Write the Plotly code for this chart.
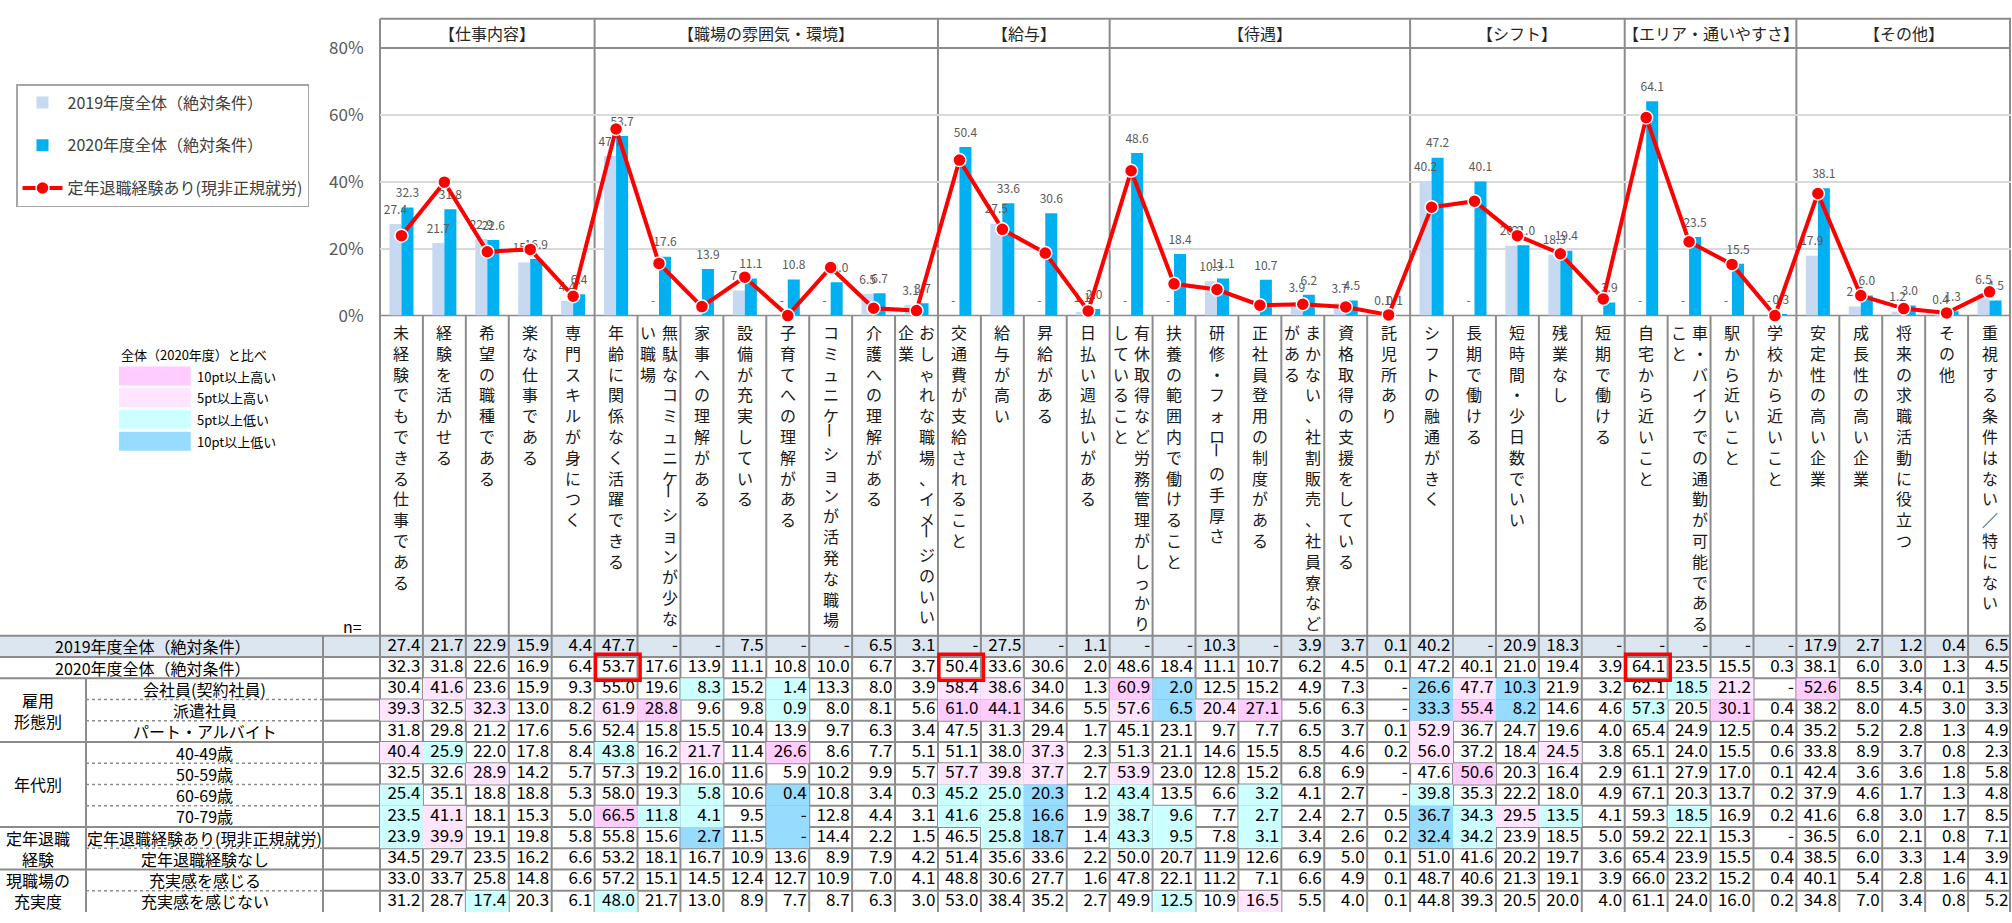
import plotly.graph_objects as go

# ---------------- data ----------------
categories = [
    "未経験でもできる仕事である", "経験を活かせる", "希望の職種である", "楽な仕事である", "専門スキルが身につく",
    "年齢に関係なく活躍できる", "無駄なコミュニケーションが少ない職場", "家事への理解がある", "設備が充実している",
    "子育てへの理解がある", "コミュニケーションが活発な職場", "介護への理解がある", "おしゃれな職場、イメージのいい企業",
    "交通費が支給されること", "給与が高い", "昇給がある", "日払い週払いがある",
    "有休取得など労務管理がしっかりしていること", "扶養の範囲内で働けること", "研修・フォローの手厚さ",
    "正社員登用の制度がある", "まかない、社割販売、社員寮などがある", "資格取得の支援をしている", "託児所あり",
    "シフトの融通がきく", "長期で働ける", "短時間・少日数でいい", "残業なし", "短期で働ける",
    "自宅から近いこと", "車・バイクでの通勤が可能であること", "駅から近いこと", "学校から近いこと",
    "安定性の高い企業", "成長性の高い企業", "将来の求職活動に役立つ", "その他", "重視する条件はない／特にない",
]
group_names = ["【仕事内容】", "【職場の雰囲気・環境】", "【給与】", "【待遇】", "【シフト】", "【エリア・通いやすさ】", "【その他】"]
group_sizes = [5, 8, 4, 7, 5, 4, 5]

y_ticks = [0, 20, 40, 60, 80]
y_tick_labels = ["0%", "20%", "40%", "60%", "80%"]

series_names = ["2019年度全体（絶対条件）", "2020年度全体（絶対条件）", "定年退職経験あり(現非正規就労)"]

v2019 = [27.4, 21.7, 22.9, 15.9, 4.4, 47.7, None, None, 7.5, None, None, 6.5, 3.1, None, 27.5, None, 1.1,
         None, None, 10.3, None, 3.9, 3.7, 0.1, 40.2, None, 20.9, 18.3, None, None, None, None, None,
         17.9, 2.7, 1.2, 0.4, 6.5]
v2020 = [32.3, 31.8, 22.6, 16.9, 6.4, 53.7, 17.6, 13.9, 11.1, 10.8, 10.0, 6.7, 3.7, 50.4, 33.6, 30.6, 2.0,
         48.6, 18.4, 11.1, 10.7, 6.2, 4.5, 0.1, 47.2, 40.1, 21.0, 19.4, 3.9, 64.1, 23.5, 15.5, 0.3,
         38.1, 6.0, 3.0, 1.3, 4.5]
kaishain = [30.4, 41.6, 23.6, 15.9, 9.3, 55.0, 19.6, 8.3, 15.2, 1.4, 13.3, 8.0, 3.9, 58.4, 38.6, 34.0, 1.3,
            60.9, 2.0, 12.5, 15.2, 4.9, 7.3, None, 26.6, 47.7, 10.3, 21.9, 3.2, 62.1, 18.5, 21.2, None,
            52.6, 8.5, 3.4, 0.1, 3.5]
haken = [39.3, 32.5, 32.3, 13.0, 8.2, 61.9, 28.8, 9.6, 9.8, 0.9, 8.0, 8.1, 5.6, 61.0, 44.1, 34.6, 5.5,
         57.6, 6.5, 20.4, 27.1, 5.6, 6.3, None, 33.3, 55.4, 8.2, 14.6, 4.6, 57.3, 20.5, 30.1, 0.4,
         38.2, 8.0, 4.5, 3.0, 3.3]
part = [31.8, 29.8, 21.2, 17.6, 5.6, 52.4, 15.8, 15.5, 10.4, 13.9, 9.7, 6.3, 3.4, 47.5, 31.3, 29.4, 1.7,
        45.1, 23.1, 9.7, 7.7, 6.5, 3.7, 0.1, 52.9, 36.7, 24.7, 19.6, 4.0, 65.4, 24.9, 12.5, 0.4,
        35.2, 5.2, 2.8, 1.3, 4.9]
age40 = [40.4, 25.9, 22.0, 17.8, 8.4, 43.8, 16.2, 21.7, 11.4, 26.6, 8.6, 7.7, 5.1, 51.1, 38.0, 37.3, 2.3,
         51.3, 21.1, 14.6, 15.5, 8.5, 4.6, 0.2, 56.0, 37.2, 18.4, 24.5, 3.8, 65.1, 24.0, 15.5, 0.6,
         33.8, 8.9, 3.7, 0.8, 2.3]
age50 = [32.5, 32.6, 28.9, 14.2, 5.7, 57.3, 19.2, 16.0, 11.6, 5.9, 10.2, 9.9, 5.7, 57.7, 39.8, 37.7, 2.7,
         53.9, 23.0, 12.8, 15.2, 6.8, 6.9, None, 47.6, 50.6, 20.3, 16.4, 2.9, 61.1, 27.9, 17.0, 0.1,
         42.4, 3.6, 3.6, 1.8, 5.8]
age60 = [25.4, 35.1, 18.8, 18.8, 5.3, 58.0, 19.3, 5.8, 10.6, 0.4, 10.8, 3.4, 0.3, 45.2, 25.0, 20.3, 1.2,
         43.4, 13.5, 6.6, 3.2, 4.1, 2.7, None, 39.8, 35.3, 22.2, 18.0, 4.9, 67.1, 20.3, 13.7, 0.2,
         37.9, 4.6, 1.7, 1.3, 4.8]
age70 = [23.5, 41.1, 18.1, 15.3, 5.0, 66.5, 11.8, 4.1, 9.5, None, 12.8, 4.4, 3.1, 41.6, 25.8, 16.6, 1.9,
         38.7, 9.6, 7.7, 2.7, 2.4, 2.7, 0.5, 36.7, 34.3, 29.5, 13.5, 4.1, 59.3, 18.5, 16.9, 0.2,
         41.6, 6.8, 3.0, 1.7, 8.5]
retired_yes = [23.9, 39.9, 19.1, 19.8, 5.8, 55.8, 15.6, 2.7, 11.5, None, 14.4, 2.2, 1.5, 46.5, 25.8, 18.7, 1.4,
               43.3, 9.5, 7.8, 3.1, 3.4, 2.6, 0.2, 32.4, 34.2, 23.9, 18.5, 5.0, 59.2, 22.1, 15.3, None,
               36.5, 6.0, 2.1, 0.8, 7.1]
retired_no = [34.5, 29.7, 23.5, 16.2, 6.6, 53.2, 18.1, 16.7, 10.9, 13.6, 8.9, 7.9, 4.2, 51.4, 35.6, 33.6, 2.2,
              50.0, 20.7, 11.9, 12.6, 6.9, 5.0, 0.1, 51.0, 41.6, 20.2, 19.7, 3.6, 65.4, 23.9, 15.5, 0.4,
              38.5, 6.0, 3.3, 1.4, 3.9]
fulfilled = [33.0, 33.7, 25.8, 14.8, 6.6, 57.2, 15.1, 14.5, 12.4, 12.7, 10.9, 7.0, 4.1, 48.8, 30.6, 27.7, 1.6,
             47.8, 22.1, 11.2, 7.1, 6.6, 4.9, 0.1, 48.7, 40.6, 21.3, 19.1, 3.9, 66.0, 23.2, 15.2, 0.4,
             40.1, 5.4, 2.8, 1.6, 4.1]
not_fulfilled = [31.2, 28.7, 17.4, 20.3, 6.1, 48.0, 21.7, 13.0, 8.9, 7.7, 8.7, 6.3, 3.0, 53.0, 38.4, 35.2, 2.7,
                 49.9, 12.5, 10.9, 16.5, 5.5, 4.0, 0.1, 44.8, 39.3, 20.5, 20.0, 4.0, 61.1, 24.0, 16.0, 0.2,
                 34.8, 7.0, 3.4, 0.8, 5.2]

row_labels = ["2019年度全体（絶対条件）", "2020年度全体（絶対条件）", "会社員(契約社員)", "派遣社員", "パート・アルバイト",
              "40-49歳", "50-59歳", "60-69歳", "70-79歳", "定年退職経験あり(現非正規就労)", "定年退職経験なし",
              "充実感を感じる", "充実感を感じない"]
row_n = ["1,735", "1,801", "265", "172", "1,364", "612", "498", "545", "146", "365", "1,436", "1,114", "687"]
row_group_labels = ["雇用<br>形態別", "年代別", "定年退職<br>経験", "現職場の<br>充実度"]
row_group_sizes = [3, 4, 2, 2]

key_title = "全体（2020年度）と比べ"
key_labels = ["10pt以上高い", "5pt以上高い", "5pt以上低い", "10pt以上低い"]

table_rows = [v2019, v2020, kaishain, haken, part, age40, age50, age60, age70,
              retired_yes, retired_no, fulfilled, not_fulfilled]

# ---------------- styles / geometry ----------------
W, H = 2012, 923
FONT = "Noto Sans CJK JP"
C2019, C2020, CLINE = "#C6D9F1", "#00B0F0", "#FF0000"
KEY_COLORS = ["#FFCCFF", "#FFE5FF", "#CCFFFF", "#97DBFF"]
GRID, FRAME = "#D9D9D9", "#8C8C8C"

PLOT_L, PLOT_R = 380.0, 2011.0
NC = len(categories)
COL_W = (PLOT_R - PLOT_L) / NC
Y_BASE, Y_TOP, HEAD_T = 310.0, 35.0, 5.0
TABLE_T = 639.0
NR = len(table_rows)
ROW_H = (H - TABLE_T) / NR
LBL_COL, N_COL = 86.0, 323.0
BAR_GAP = 0.44
LBL_FS = 16
LH = LBL_FS * 1.3
LBL_TOP = 312.0


def fx(p):
    return p / W


def fy(p):
    return 1 - p / H


def fmt(v):
    return "-" if v is None else f"{v:.1f}"


idx = list(range(NC))
fig = go.Figure()

# bars
fig.add_trace(go.Bar(x=idx, y=v2019, name=series_names[0], legendgroup="a",
                     marker=dict(color=C2019, line=dict(width=0)), hoverinfo="y"))
fig.add_trace(go.Bar(x=idx, y=v2020, name=series_names[1], legendgroup="b",
                     marker=dict(color=C2020, line=dict(width=0)), hoverinfo="y"))

# data labels
off = (1 - BAR_GAP) / 4
for vals, sign in ((v2019, -1), (v2020, 1)):
    fig.add_trace(go.Scatter(
        x=[i + sign * off for i in idx], y=[0 if v is None else v for v in vals],
        text=[fmt(v) for v in vals], mode="markers+text",
        marker=dict(size=10, color="rgba(0,0,0,0)"),
        textposition="top center", textfont=dict(size=12, color="#595959", family=FONT),
        showlegend=False, hoverinfo="skip", cliponaxis=False))

# line
fig.add_trace(go.Scatter(
    x=idx, y=[0 if v is None else v for v in retired_yes], name=series_names[2], legendgroup="c",
    mode="lines+markers", line=dict(color=CLINE, width=4),
    marker=dict(size=13, color=CLINE, line=dict(color="white", width=1.5)),
    cliponaxis=False))

# table numbers
for r, vals in enumerate(table_rows):
    fig.add_trace(go.Scatter(
        x=[i + 0.5 - 2.5 / COL_W for i in idx], y=[r + 0.5] * NC, text=[fmt(v) for v in vals],
        mode="text", textposition="middle left", textfont=dict(size=17, color="#000000", family=FONT),
        xaxis="x2", yaxis="y2", showlegend=False, hoverinfo="skip", cliponaxis=False))
# n column
fig.add_trace(go.Scatter(
    x=[-0.5 - 3 / COL_W] * NR, y=[r + 0.5 for r in range(NR)], text=row_n,
    mode="text", textposition="middle left", textfont=dict(size=17, color="#000000", family=FONT),
    xaxis="x2", yaxis="y2", showlegend=False, hoverinfo="skip", cliponaxis=False))

shapes = []
annotations = []


def hline(y, x0, x1, width=2, color=FRAME, dash="solid", layer="below"):
    shapes.append(dict(type="line", xref="paper", yref="paper", x0=fx(x0), x1=fx(x1), y0=fy(y), y1=fy(y),
                       line=dict(color=color, width=width, dash=dash), layer=layer))


def vline(x, y0, y1, width=2, color=FRAME):
    shapes.append(dict(type="line", xref="paper", yref="paper", x0=fx(x), x1=fx(x), y0=fy(y0), y1=fy(y1),
                       line=dict(color=color, width=width), layer="below"))


# 2019 row background
shapes.append(dict(type="rect", xref="paper", yref="paper", x0=0, x1=fx(PLOT_R), y0=fy(TABLE_T),
                   y1=fy(TABLE_T + ROW_H), fillcolor="#DCE6F1", line=dict(width=0), layer="below"))

# highlighted cells (compared with 2020 overall)
base = [0 if v is None else v for v in v2020]
for r in range(2, NR):
    for i, v in enumerate(table_rows[r]):
        d = round((0 if v is None else v) - base[i], 1)
        col = None
        if d >= 10:
            col = KEY_COLORS[0]
        elif d >= 5:
            col = KEY_COLORS[1]
        elif d <= -10:
            col = KEY_COLORS[3]
        elif d <= -5:
            col = KEY_COLORS[2]
        if col:
            shapes.append(dict(type="rect", xref="x2", yref="y2", x0=i - 0.5, x1=i + 0.5, y0=r, y1=r + 1,
                               fillcolor=col, line=dict(width=0), layer="below"))

# chart frame
hline(HEAD_T, PLOT_L, PLOT_R)
hline(Y_TOP, PLOT_L, PLOT_R)
hline(Y_BASE, PLOT_L, PLOT_R, width=1.5)
bounds = [0]
for s in group_sizes:
    bounds.append(bounds[-1] + s)
for k in range(NC + 1):
    x = PLOT_L + k * COL_W
    if k == NC:
        x = PLOT_R - 1
    if k in bounds:
        vline(x, HEAD_T, H)
    else:
        vline(x, Y_BASE, H)

# table lines
major = {0, 1, 2}
acc = 2
for s in row_group_sizes:
    major.add(acc)
    acc += s
for r in range(NR):
    y = TABLE_T + r * ROW_H
    if r in major:
        hline(y, 0, PLOT_R)
    else:
        hline(y, LBL_COL, N_COL, width=1.5, dash="dot")
        hline(y, N_COL, PLOT_R)
vline(N_COL, TABLE_T, H)
vline(LBL_COL, TABLE_T + 2 * ROW_H, H)

# top-3 highlight boxes for 2020 overall
top3 = sorted(range(NC), key=lambda i: v2020[i], reverse=True)[:3]
for j in top3:
    shapes.append(dict(type="rect", xref="x2", yref="y2", x0=j - 0.48, x1=j + 0.56, y0=0.87, y1=2.1,
                       line=dict(color="#FF0000", width=3.5), fillcolor="rgba(0,0,0,0)", layer="above"))

# group headers
for g, name in enumerate(group_names):
    annotations.append(dict(text=name, xref="x", yref="paper", x=(bounds[g] + bounds[g + 1] - 1) / 2,
                            y=fy((HEAD_T + Y_TOP) / 2), showarrow=False, xanchor="center", yanchor="middle",
                            font=dict(size=16, color="#262626", family=FONT)))

# vertical category labels (top-to-bottom, columns right-to-left)
PER_COL = 15
ROTATE = "ー"
lbl_font = dict(size=LBL_FS, color="#1A1A1A", family=FONT)
for i, lab in enumerate(categories):
    chunks = [lab[k:k + PER_COL] for k in range(0, len(lab), PER_COL)]
    n = len(chunks)
    for c, ch in enumerate(chunks):
        xc = i + (0 if n == 1 else (0.245 if c == 0 else -0.245))
        run, start = "", 0
        for k, char in enumerate(ch + "\n"):
            if char in ROTATE or char == "\n":
                if run:
                    annotations.append(dict(text="<br>".join(run), xref="x", yref="paper", x=xc,
                                            y=fy(LBL_TOP + start * LH), showarrow=False, xanchor="center",
                                            yanchor="top", align="center", font=lbl_font))
                run = ""
                if char in ROTATE:
                    annotations.append(dict(text=char, textangle=90, xref="x", yref="paper", x=xc,
                                            y=fy(LBL_TOP + 1 + (k + 0.5) * LH), showarrow=False,
                                            xanchor="center", yanchor="middle", font=lbl_font))
            else:
                if not run:
                    start = k
                run += char

annotations.append(dict(text="n=", xref="paper", yref="paper", x=fx(352), y=fy(629), showarrow=False,
                        xanchor="center", yanchor="middle", font=dict(size=16, color="#000000", family=FONT)))

# row labels
for r, lab in enumerate(row_labels):
    xc = 153 if r < 2 else (LBL_COL + N_COL) / 2
    annotations.append(dict(text=lab, xref="paper", yref="y2", x=fx(xc), y=r + 0.5, showarrow=False,
                            xanchor="center", yanchor="middle", font=dict(size=16, color="#000000", family=FONT)))
acc = 2
for lab, s in zip(row_group_labels, row_group_sizes):
    annotations.append(dict(text=lab, xref="paper", yref="y2", x=fx(38), y=acc + s / 2, showarrow=False,
                            xanchor="center", yanchor="middle", font=dict(size=16, color="#000000", family=FONT)))
    acc += s

# colour key
annotations.append(dict(text=key_title, xref="paper", yref="paper", x=fx(119), y=fy(350), showarrow=False,
                        xanchor="left", yanchor="middle", font=dict(size=13, color="#000000", family=FONT)))
key_tops = [362.3, 384.3, 406.7, 429.3]
for k, (lab, col) in enumerate(zip(key_labels, KEY_COLORS)):
    t = key_tops[k]
    shapes.append(dict(type="rect", xref="paper", yref="paper", x0=fx(119), x1=fx(190.7), y0=fy(t),
                       y1=fy(t + 19.6), fillcolor=col, line=dict(width=0), layer="below"))
    annotations.append(dict(text=lab, xref="paper", yref="paper", x=fx(195), y=fy(t + 10), showarrow=False,
                            xanchor="left", yanchor="middle", font=dict(size=13, color="#000000", family=FONT)))

fig.update_layout(
    width=W, height=H, margin=dict(l=0, r=0, t=0, b=0),
    paper_bgcolor="white", plot_bgcolor="rgba(0,0,0,0)",
    barmode="group", bargap=BAR_GAP, bargroupgap=0,
    font=dict(family=FONT, color="#000000"),
    xaxis=dict(domain=[fx(PLOT_L), fx(PLOT_R)], range=[-0.5, NC - 0.5], showgrid=False, zeroline=False,
               showticklabels=False, ticks="", fixedrange=True),
    yaxis=dict(domain=[fy(Y_BASE), fy(Y_TOP)], range=[0, 80], tickvals=y_ticks, ticktext=y_tick_labels,
               showgrid=True, gridcolor=GRID, gridwidth=1.5, zeroline=False, showline=False,
               tickfont=dict(size=17, color="#595959", family=FONT),
               ticks="outside", ticklen=12, tickcolor="rgba(0,0,0,0)", fixedrange=True),
    xaxis2=dict(domain=[fx(PLOT_L), fx(PLOT_R)], range=[-0.5, NC - 0.5], visible=False, anchor="y2"),
    yaxis2=dict(domain=[0, fy(TABLE_T)], range=[NR, 0], visible=False, anchor="x2"),
    legend=dict(x=fx(16), y=fy(72), xanchor="left", yanchor="top", bordercolor="#A6A6A6", borderwidth=1.5,
                bgcolor="white", font=dict(size=16, color="#404040", family=FONT), itemwidth=40,
                tracegroupgap=19, traceorder="grouped"),
    shapes=shapes, annotations=annotations,
)

fig.write_html(
    "out.html",
    config={"displayModeBar": False},
    post_script="document.body.style.margin='0';document.body.style.overflow='hidden';"
                "document.documentElement.style.overflow='hidden';",
)
